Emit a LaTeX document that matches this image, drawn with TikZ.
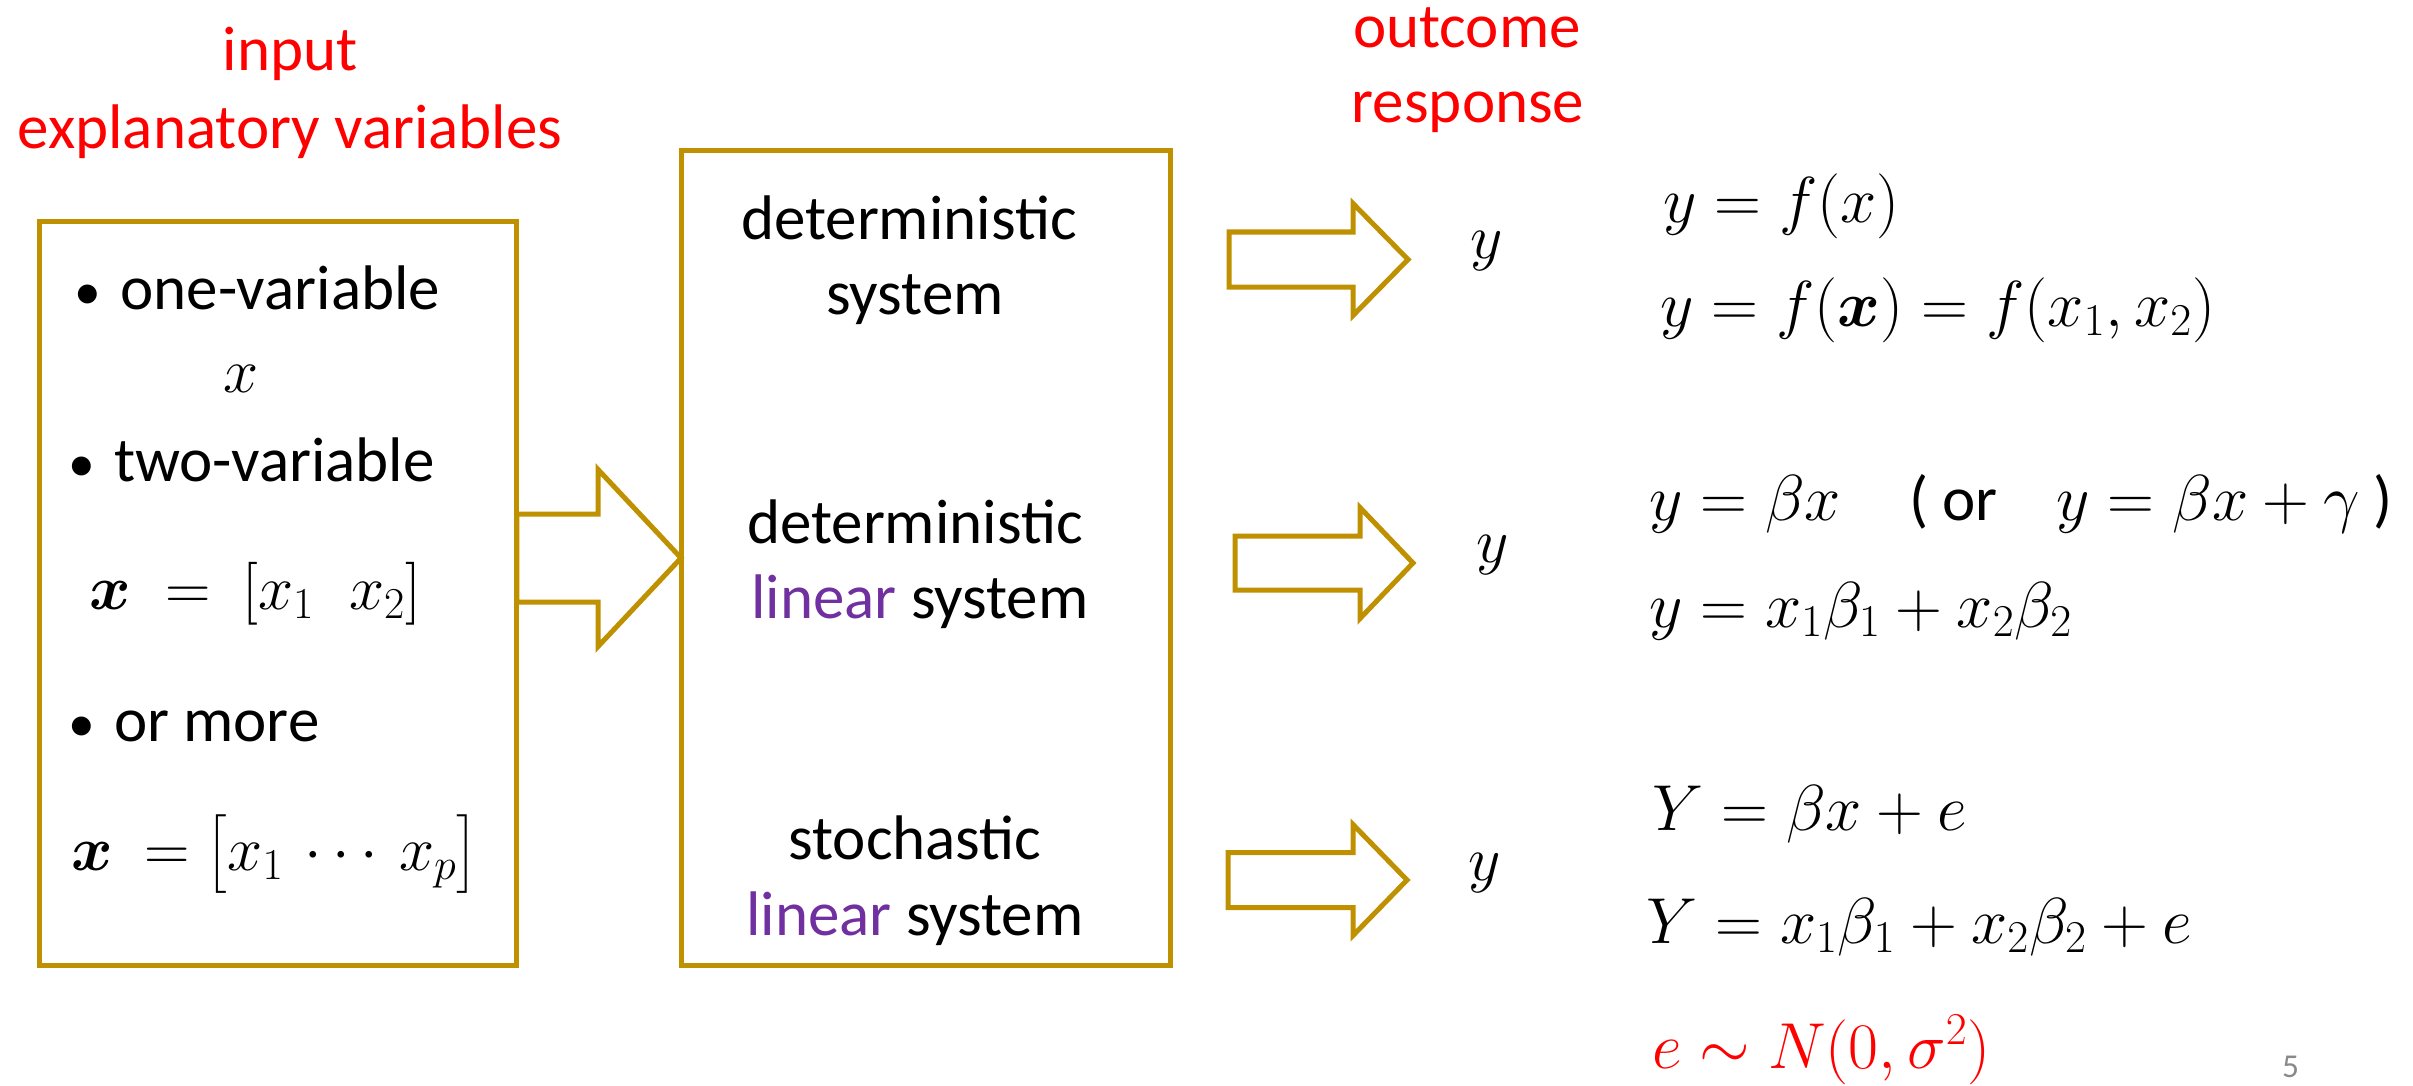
\RequirePackage{fix-cm}
\documentclass[tikz,border=0pt]{standalone}
\usepackage{amsmath}
\usepackage[no-math]{fontspec}
\setmainfont{Carlito}
\usetikzlibrary{calc}
\definecolor{gold}{HTML}{BF9000}
\definecolor{lpurple}{HTML}{7030A0}
\definecolor{pgray}{HTML}{898989}
\newcommand\blockarrow[5]{%
  \draw[blk] ($(#1)+(0,-#3)$) -- ($(#2)+(-#5,-#3)$) -- ($(#2)+(-#5,-#4)$) -- (#2)
    -- ($(#2)+(-#5,#4)$) -- ($(#2)+(-#5,#3)$) -- ($(#1)+(0,#3)$) -- cycle;}
\begin{document}
\begin{tikzpicture}[x=0.02cm,y=-0.02cm,
  every node/.style={inner sep=0pt, outer sep=0pt, font=\fontsize{35.85}{43}\selectfont},
  frame/.style={draw=gold, line width=2.85pt},
  blk/.style={draw=gold, line width=2.85pt, line join=miter},
  hdr/.style={text=red, anchor=base},
  ctr/.style={anchor=base},
  lft/.style={anchor=base west},
  eqn/.style={anchor=base west, font=\fontsize{37}{44}\selectfont}]
\useasboundingbox (0,0) rectangle (2413,1085);

% headers
\node[hdr] (h1) at (290,70) {input};
\node[hdr] (h2) at (290,148) {explanatory variables};
\node[hdr] (h3) at (1467,47) {outcome};
\node[hdr] (h4) at (1468,122) {response};

% boxes
\node[frame, minimum width=9.56cm, minimum height=14.9cm] (inbox) at (278,593.5) {};
\node[frame, minimum width=9.8cm, minimum height=16.32cm] (sysbox) at (926,558) {};

% left box content
\node[lft] (b1) at (120.5,309) {\llap{\scalebox{0.85}{•}\hspace{0.3em}}one-variable};
\node[ctr] (v1) at (241,392) {$x$};
\node[lft] (b2) at (114,481) {\llap{\scalebox{0.85}{•}\hspace{0.3em}}two-variable};
\node[lft] (v2) at (89,609) {$\boldsymbol{x}\;=\:[x_1\;\;x_2]$};
\node[lft] (b3) at (114,741) {\llap{\scalebox{0.85}{•}\hspace{0.3em}}or more};
\node[lft] (v3) at (71,870) {$\boldsymbol{x}\:=\bigl[x_1\,\cdots\,x_p\bigr]$};

% system box content
\node[ctr] (s1a) at (909,239) {deterministic};
\node[ctr] (s1b) at (915,314) {system};
\node[ctr] (s2a) at (915,543) {deterministic};
\node[ctr] (s2b) at (920,618) {\textcolor{lpurple}{linear} system};
\node[ctr] (s3a) at (915,859) {stochastic};
\node[ctr] (s3b) at (915,935) {\textcolor{lpurple}{linear} system};

% arrows
\coordinate (a0s) at (inbox.east |- sysbox.west);
\blockarrow{a0s}{sysbox.west}{44}{88.5}{83}
\coordinate (a1s) at (1229,259.5);
\coordinate (a1t) at (1408,259.5);
\blockarrow{a1s}{a1t}{27.5}{56}{55}
\coordinate (a2s) at (1235,563);
\coordinate (a2t) at (1413,563);
\blockarrow{a2s}{a2t}{27}{55.5}{53}
\coordinate (a3s) at (1228,880);
\coordinate (a3t) at (1407,880);
\blockarrow{a3s}{a3t}{27.5}{55.5}{54}

% outputs
\node[lft] (y1) at (1470,258) {$y$};
\node[lft] (y2) at (1476,562) {$y$};
\node[lft] (y3) at (1468,880) {$y$};

% equations
\node[eqn] (f1) at (1663,222) {$y=f(x)$};
\node[eqn] (f2) at (1660,326) {$y=f(\boldsymbol{x})=f(x_1,x_2)$};
\node[eqn] (l1) at (1649,520) {$y=\beta x$\hspace{1.05em}{\fontsize{35.85}{43}\selectfont( or}\hspace{0.9em}$y=\beta x+\gamma$\hspace{0.2em}{\fontsize{35.85}{43}\selectfont)}};
\node[eqn] (l2) at (1649,627) {$y=x_1\beta_1+x_2\beta_2$};
\node[eqn] (e1) at (1652,830) {$Y=\beta x+e$};
\node[eqn] (e2) at (1646,943) {$Y=x_1\beta_1+x_2\beta_2+e$};
\node[eqn, text=red] (e3) at (1652,1068) {$e\sim N(0,\sigma^2)$};
\node[lft, text=pgray, font=\fontsize{19}{23}\selectfont] (pg) at (2282,1077) {5};
\end{tikzpicture}
\end{document}
